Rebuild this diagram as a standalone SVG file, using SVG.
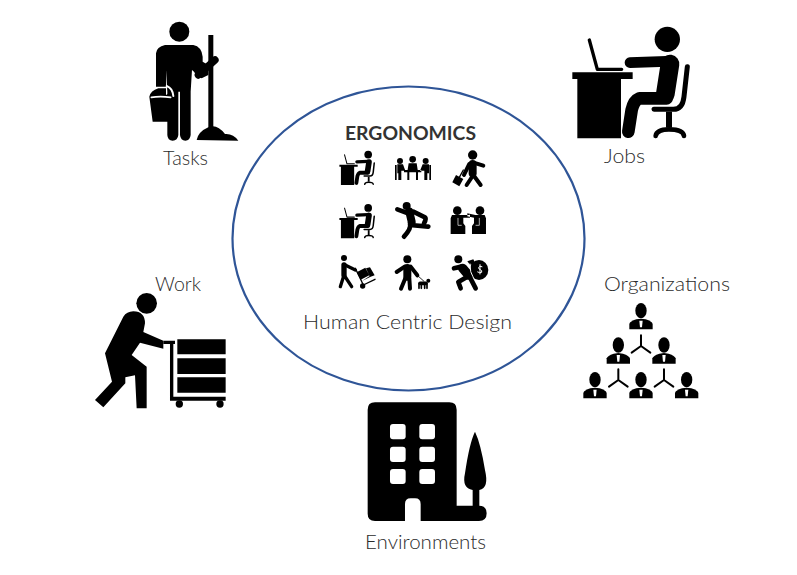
<svg xmlns="http://www.w3.org/2000/svg" width="797" height="575" viewBox="0 0 797 575">
<style>
.t{font-family:"Lato","Liberation Sans",sans-serif;font-weight:300;fill:#2b2b2b;font-size:19px}
.s{fill:none;stroke:#000;stroke-linecap:round;stroke-linejoin:round}
.w{fill:none;stroke:#fff;stroke-linecap:round;stroke-linejoin:round}
</style>
<defs>
<g id="desk">
<circle cx="322" cy="58" r="38"/>
<path d="M37 157H218V177H183V355H52V177H37Z"/>
<path class="s" stroke-width="10" d="M88 60L112 148H185"/>
<path class="s" stroke-width="32" d="M210 128L320 124"/>
<path class="s" stroke-width="56" d="M330 132L316 222"/>
<path class="s" stroke-width="38" d="M320 235H238C225 240 220 250 215 270L205 335"/>
<path class="s" stroke-width="15" stroke-linecap="butt" d="M382 140L372 230Q368 268 340 268H282"/>
<path d="M318 275H336V323H318Z"/>
<path class="s" stroke-width="14" d="M287 348Q290 328 327 328Q370 328 372 348"/>
</g>
<g id="person">
<ellipse cx="0" cy="0" rx="17" ry="23"/>
<path d="M-35 56V40Q-33 32 -14 26L0 24L14 26Q33 32 35 40V56Z"/>
<path d="M-5 30H5L3 50H-3Z" fill="#fff"/>
</g>
<path id="tri" class="s" stroke-width="6" d="M0 0V-32M0 0L-28 20M0 0L28 20"/>
</defs>

<g id="connectors"></g>

<g id="center">
<ellipse cx="408.5" cy="238.5" rx="176" ry="152" fill="none" stroke="#2f5597" stroke-width="2.2"/>
<text x="345" y="140" font-family="Lato,'Liberation Sans',sans-serif" font-weight="700" font-size="18" fill="#333" textLength="131" lengthAdjust="spacingAndGlyphs">ERGONOMICS</text>
<text class="t" x="303" y="329" textLength="209" lengthAdjust="spacingAndGlyphs">Human Centric Design</text>
</g>

<g id="center-icons" transform="translate(330 120) scale(.3333)">
<use href="#desk" transform="translate(17 86) scale(.303 .307)"/>
<use href="#desk" transform="translate(17 246) scale(.303 .307)"/>
<g id="meeting">
<circle cx="210" cy="123" r="9"/><circle cx="248" cy="118" r="10"/><circle cx="287" cy="123" r="9"/>
<path d="M236 130H260L264 155H232ZM202 133H219L226 152H214V180H205V160H202ZM297 133H278L270 152H283V180H292V160H297ZM222 150H274V157H222ZM195 135H200V180H195ZM298 135H303V180H298ZM232 156H238V180H232ZM258 156H264V180H258Z"/>
</g>
<g id="walker">
<circle cx="428" cy="105" r="14"/>
<path class="s" stroke-width="24" d="M428 132V160"/>
<path class="s" stroke-width="12" d="M430 165L410 195M430 165L452 195M438 130L460 137M418 132L402 165"/>
<path d="M378 165L400 177L388 199L367 187Z"/><path class="s" stroke-width="4" d="M388 172L400 150"/>
</g>
<g id="runner">
<circle cx="230" cy="258" r="12"/>
<path class="s" stroke-width="24" d="M238 275L245 305"/>
<path class="s" stroke-width="14" d="M240 282L202 268M250 275L285 292Q290 296 282 310M240 315L295 320M240 310Q245 325 222 350"/>
</g>
<g id="partners">
<circle cx="382" cy="272" r="13"/><circle cx="450" cy="272" r="13"/>
<path d="M366 285H396L420 284V293H400V310L406 318V342H362V295ZM464 285H436L412 280V289L432 293V310L426 318V342H468V295Z"/>
<path class="w" stroke-width="2" d="M384 295V316H394M448 295V316H438"/>
</g>
<g id="handcart">
<circle cx="42" cy="414" r="9"/>
<path class="s" stroke-width="16" d="M42 435V465"/>
<path class="s" stroke-width="10" d="M42 465L31 500M42 465L65 500M44 434L76 450"/>
<path class="s" stroke-width="4" d="M76 445L100 495L135 478"/>
<path d="M80 457L106 443L118 466L92 479ZM96 483L122 470L134 466L120 442L108 445L119 468Z"/>
<circle cx="98" cy="498" r="8"/>
</g>
<g id="dogwalker">
<circle cx="232" cy="418" r="12"/>
<path class="s" stroke-width="24" d="M232 444V470"/>
<path class="s" stroke-width="12" d="M226 475L213 506M238 475L240 506M224 440L200 456M242 440L262 466"/>
<path class="s" stroke-width="2.5" d="M262 466L282 484"/>
<path class="s" stroke-width="11" d="M270 490H288"/>
<path class="s" stroke-width="5" d="M267 492V505M274 492V505M284 492V505M291 492V505"/>
<circle cx="295" cy="482" r="6"/>
</g>
<g id="thief">
<circle cx="385" cy="418" r="12"/>
<ellipse cx="447" cy="450" rx="28" ry="30"/>
<path d="M412 424L430 418L438 434L420 434Z"/>
<path class="s" stroke-width="28" d="M398 445L415 465"/>
<path class="w" stroke-width="3" d="M420 432Q418 455 432 478"/>
<path class="s" stroke-width="14" d="M412 470L385 486L392 505M420 472L437 505M395 440L372 445"/>
<path class="w" stroke-width="3" d="M456 440Q448 436 446 443Q446 448 451 449Q457 451 455 457Q449 460 443 456M450 434V462"/>
</g>
</g>

<g id="tasks" transform="translate(130 20) scale(.3333)">
<circle cx="148" cy="35" r="30"/>
<path d="M105 75H190Q215 80 218 110V125L235 135V165L215 175Q200 170 192 155L186 150L182 215V345Q180 362 166 362Q152 362 150 345V215H145V345Q143 362 128 362Q113 362 112 345V215L108 150V200L78 200V100Q80 80 105 75Z"/>
<path class="w" stroke-width="5" d="M78 205H108"/>
<path d="M235 45H250V325H235Z"/>
<path class="s" stroke-width="22" d="M205 165L255 120"/>
<path d="M200 360Q205 335 235 322Q260 310 285 342Q310 340 325 362Z"/>
<path d="M58 230Q62 212 85 205H108V225L132 212V225L120 305H68Z"/>
<path class="w" stroke-width="5" d="M64 232Q90 228 122 232"/>
<path class="w" stroke-width="6" d="M110 198Q128 205 130 228"/>
</g>

<g id="jobs" transform="translate(560 20) scale(.3333)">
<use href="#desk"/>
<path class="w" stroke-width="5" d="M205 150H270"/>
</g>

<g id="work" transform="translate(90 270) scale(.3333)">
<circle cx="170" cy="100" r="31"/>
<path d="M130 124Q165 125 165 160L160 186L220 212V236L150 218L125 255L170 290V415H140L135 316L106 322V340L40 412L15 390L66 335L45 250L100 140Q110 125 130 124Z"/>
<path d="M220 212H255V222H250V380H407V392H240V222H220Z"/>
<path d="M262 208H407V253H262ZM262 265H407V312H262ZM262 322H407V368H262Z"/>
<circle cx="268" cy="402" r="11"/><circle cx="390" cy="402" r="11"/>
</g>

<g id="organizations" transform="translate(570 270) scale(.3333)">
<use href="#person" x="213" y="122"/>
<use href="#person" x="145" y="225"/>
<use href="#person" x="282" y="225"/>
<use href="#person" x="75" y="329"/>
<use href="#person" x="213" y="329"/>
<use href="#person" x="350" y="329"/>
<use href="#tri" x="213" y="228"/>
<use href="#tri" x="145" y="330"/>
<use href="#tri" x="282" y="330"/>
</g>

<g id="environments" transform="translate(350 390) scale(.3333)">
<path d="M75 37H298Q320 37 320 59V347H387Q410 347 410 370Q410 393 387 393H75Q53 393 53 371V59Q53 37 75 37Z"/>
<path d="M165 393V342Q165 325 182 325H195Q212 325 212 342V393Z" fill="#fff"/>
<g fill="#fff">
<rect x="120" y="102" width="47" height="46" rx="9"/><rect x="208" y="102" width="47" height="46" rx="9"/>
<rect x="120" y="170" width="47" height="46" rx="9"/><rect x="208" y="170" width="47" height="46" rx="9"/>
<rect x="120" y="237" width="47" height="45" rx="9"/><rect x="208" y="237" width="47" height="45" rx="9"/>
</g>
<path d="M375 125Q392 160 405 240Q418 295 388 300V350H368V300Q335 295 345 250Q358 160 375 125Z"/>
</g>

<g id="labels">
<text class="t" x="163" y="165" textLength="45" lengthAdjust="spacingAndGlyphs">Tasks</text>
<text class="t" x="604" y="163" textLength="41" lengthAdjust="spacingAndGlyphs">Jobs</text>
<text class="t" x="155" y="291" textLength="46" lengthAdjust="spacingAndGlyphs">Work</text>
<text class="t" x="604" y="291" textLength="126" lengthAdjust="spacingAndGlyphs">Organizations</text>
<text class="t" x="365" y="549" textLength="121" lengthAdjust="spacingAndGlyphs">Environments</text>
</g>
</svg>
